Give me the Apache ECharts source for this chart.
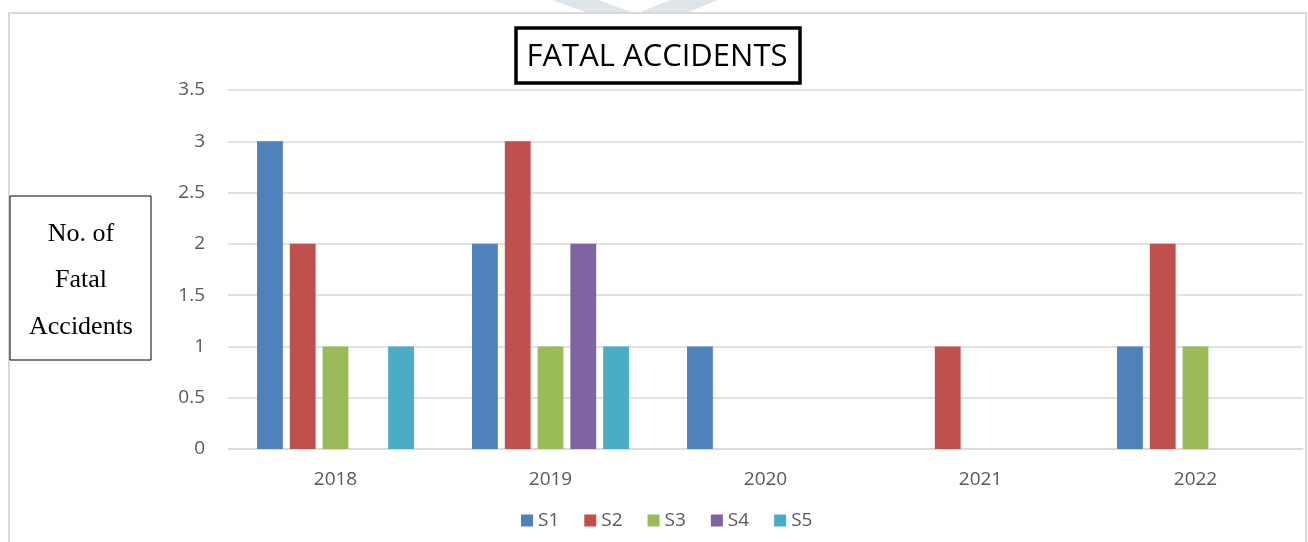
<!DOCTYPE html>
<html>
<head>
<meta charset="utf-8">
<title>Fatal Accidents</title>
<script src="https://cdn.jsdelivr.net/npm/echarts@6/dist/echarts.min.js"></script>
<style>
  html, body { margin: 0; padding: 0; background: #fff; }
  #chart { width: 1308px; height: 542px; }
</style>
</head>
<body>
<div id="chart"></div>
<script>
var years = ['2018', '2019', '2020', '2021', '2022'];
var s1 = [3, 2, 1, 0, 1];
var s2 = [2, 3, 0, 1, 2];
var s3 = [1, 1, 0, 0, 1];
var s4 = [0, 2, 0, 0, 0];
var s5 = [1, 1, 0, 0, 0];
var seriesNames = ['S1', 'S2', 'S3', 'S4', 'S5'];
var seriesColors = ['#4f81bd', '#c0504d', '#9bbb59', '#8064a2', '#4bacc6'];

var myChart = echarts.init(document.getElementById('chart'));

function bar(name, data, i) {
	return {
		name: name,
		type: 'bar',
		data: data,
		barGap: '27%',
		barCategoryGap: '27%',
		itemStyle: { color: seriesColors[i] }
	};
}

var option = {
	animation: false,
	grid: { left: 228, right: 5, top: 90, bottom: 93, containLabel: false },
	legend: {
		data: seriesNames,
		icon: 'rect',
		left: 516,
		top: 506,
		itemWidth: 12,
		itemHeight: 12,
		itemGap: 25,
		textStyle: { fontFamily: 'Open Sans', fontSize: 19, color: '#595959' }
	},
	xAxis: {
		type: 'category',
		data: years,
		axisTick: { show: false },
		axisLine: { lineStyle: { color: '#d9d9d9', width: 1.5 } },
		axisLabel: { fontFamily: 'Open Sans', fontSize: 19, color: '#595959', margin: 21 }
	},
	yAxis: {
		type: 'value',
		min: 0,
		max: 3.5,
		interval: 0.5,
		axisLine: { show: false },
		axisTick: { show: false },
		axisLabel: { fontFamily: 'Open Sans', fontSize: 19, color: '#595959', margin: 23 },
		splitLine: { lineStyle: { color: '#d9d9d9', width: 1.5 } }
	},
	graphic: [
		// faint watermark at the top
		{ type: 'polygon', z: -10, shape: { points: [[552, 0], [598, 0], [634, 13], [588, 13]] }, style: { fill: '#dfe6ea' } },
		{ type: 'polygon', z: -10, shape: { points: [[670, 0], [718, 0], [686, 13], [638, 13]] }, style: { fill: '#dfe6ea' } },
		// outer frame
		{ type: 'rect', z: -5, shape: { x: 9, y: 13, width: 1297, height: 545 }, style: { fill: '#fff', stroke: '#d9d9d9', lineWidth: 2 } },
		// title box
		{ type: 'rect', shape: { x: 516, y: 28, width: 284, height: 55 }, style: { fill: '#fff', stroke: '#000', lineWidth: 3.5 } },
		{ type: 'text', style: { x: 657, y: 57, text: 'FATAL ACCIDENTS', fontFamily: 'Open Sans', fontSize: 31, fill: '#000', align: 'center', verticalAlign: 'middle' } },
		// y axis name box
		{ type: 'rect', shape: { x: 10, y: 196, width: 141, height: 164 }, style: { fill: '#fff', stroke: '#000', lineWidth: 1 } },
		{ type: 'text', style: { x: 81, y: 234, text: 'No. of', fontFamily: 'Liberation Serif', fontSize: 26, fill: '#000', align: 'center', verticalAlign: 'middle' } },
		{ type: 'text', style: { x: 81, y: 280, text: 'Fatal', fontFamily: 'Liberation Serif', fontSize: 26, fill: '#000', align: 'center', verticalAlign: 'middle' } },
		{ type: 'text', style: { x: 81, y: 327, text: 'Accidents', fontFamily: 'Liberation Serif', fontSize: 26, fill: '#000', align: 'center', verticalAlign: 'middle' } }
	],
	series: [
		bar('S1', s1, 0),
		bar('S2', s2, 1),
		bar('S3', s3, 2),
		bar('S4', s4, 3),
		bar('S5', s5, 4)
	]
};

myChart.setOption(option);
window.onresize = myChart.resize;
</script>
</body>
</html>
